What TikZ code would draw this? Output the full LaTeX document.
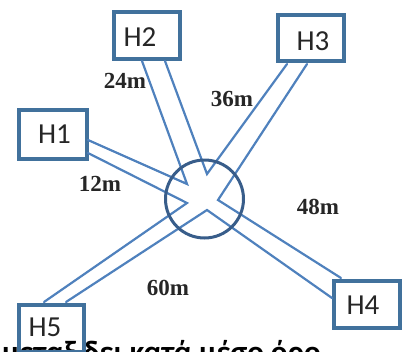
\documentclass[tikz,border=0pt]{standalone}
\usepackage{fontspec}
\setmainfont{Carlito}
\newfontfamily\labfont{Liberation Serif}
\definecolor{boxblue}{RGB}{65,113,156}
\definecolor{roadblue}{RGB}{79,129,189}
\definecolor{ringblue}{RGB}{56,93,138}
\begin{document}
\begin{tikzpicture}[x=1pt,y=-1pt,
  hbox/.style={draw=boxblue, line width=3.5pt, inner sep=0pt},
  hname/.style={font=\fontsize{29}{31}\selectfont, inner sep=0pt, text=black!85},
  dist/.style={font=\labfont\bfseries\fontsize{23}{25}\selectfont, inner sep=0pt, text=black!85},
  road/.style={draw=roadblue, line width=2.2pt, line cap=round},
  ring/.style={draw=ringblue, line width=3pt}]
\useasboundingbox (0,0) rectangle (409,351);
\clip (0,0) rectangle (409,351);
% bottom text (cut off by the page edge)
\node[anchor=base west, inner sep=0pt, font=\bfseries\fontsize{31}{33}\selectfont] (note) at (2,362) {μεταξ δει κατά μέσο όρο};
% boxes
\node[hbox, minimum width=68pt, minimum height=49pt] (h1) at (53,134.5) {};
\node[hbox, minimum width=66pt, minimum height=47pt] (h2) at (147,35.5) {};
\node[hbox, minimum width=66pt, minimum height=46pt] (h3) at (311,38) {};
\node[hbox, minimum width=66pt, minimum height=47pt] (h4) at (367,304.5) {};
\node[hbox, minimum width=65pt, minimum height=47pt] (h5) at (51.5,328.5) {};
\node[hname] (t1) at (54.5,134.5) {H1};
\node[hname] (t2) at (140,37) {H2};
\node[hname] (t3) at (313,41.5) {H3};
\node[hname] (t4) at (363,305) {H4};
\node[hname] (t5) at (45,327.5) {H5};
% road end points
\coordinate (h1a) at (88,140);  \coordinate (h1b) at (88,153);
\coordinate (h2a) at (142,61);  \coordinate (h2b) at (165,61);
\coordinate (h3a) at (287,64);  \coordinate (h3b) at (307,64);
\coordinate (h4a) at (341,278); \coordinate (h4b) at (332,298);
\coordinate (h5a) at (44,302);  \coordinate (h5b) at (66,302);
% inner corners
\coordinate (c12) at (187,184);
\coordinate (c23) at (207,174);
\coordinate (c34) at (218,200);
\coordinate (c45) at (207,210);
\coordinate (c51) at (187,203);
% roads
\draw[road] (h1a) -- (c12) -- (h2a);
\draw[road] (h2b) -- (c23) -- (h3a);
\draw[road] (h3b) -- (c34) -- (h4a);
\draw[road] (h4b) -- (c45) -- (h5b);
\draw[road] (h5a) -- (c51) -- (h1b);
% roundabout
\node[ring, circle, minimum size=78pt, inner sep=0pt] (hub) at (204.5,199) {};
% distances
\node[dist] (d2) at (125,81) {24m};
\node[dist] (d3) at (232,99) {36m};
\node[dist] (d1) at (100,184) {12m};
\node[dist] (d4) at (318,207) {48m};
\node[dist] (d5) at (168,288) {60m};
\end{tikzpicture}
\end{document}
